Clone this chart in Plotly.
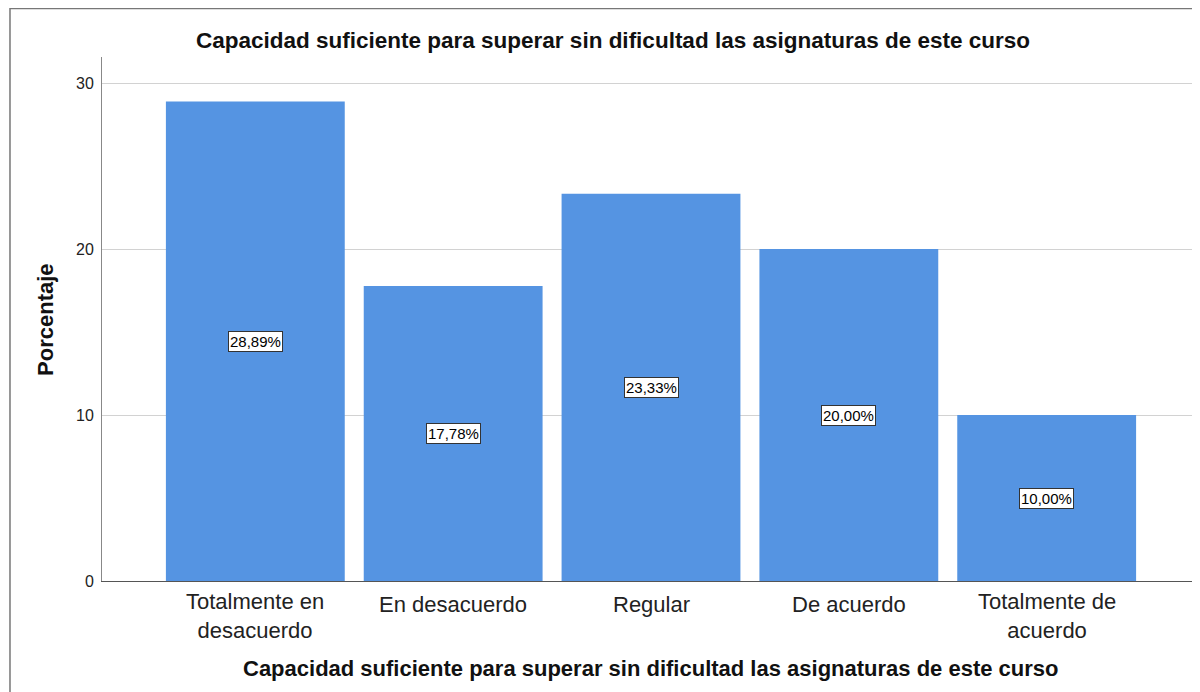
import plotly.graph_objects as go

# data
categorias = ["Totalmente en<br>desacuerdo", "En desacuerdo", "Regular", "De acuerdo", "Totalmente de<br>acuerdo"]
porcentajes = [28.89, 17.78, 23.33, 20.00, 10.00]
etiquetas = ["28,89%", "17,78%", "23,33%", "20,00%", "10,00%"]
y_ticks = [0, 10, 20, 30]

titulo = "Capacidad suficiente para superar sin dificultad las asignaturas de este curso"
bar_color = "#5594E2"
fuente = "Liberation Sans, Arial, sans-serif"

fig = go.Figure()
fig.add_trace(go.Bar(
    x=list(range(len(categorias))),
    y=porcentajes,
    marker=dict(color=bar_color, line=dict(width=0)),
    hoverinfo="skip",
))

# value labels in white boxes, middle of each bar
for i, (v, t) in enumerate(zip(porcentajes, etiquetas)):
    fig.add_annotation(
        x=i, y=v / 2, text=t, showarrow=False,
        font=dict(family=fuente, size=15, color="#000"),
        bgcolor="white", bordercolor="#333", borderwidth=1, borderpad=1,
    )

# category labels
for i, cat in enumerate(categorias):
    dos_lineas = "<br>" in cat
    fig.add_annotation(
        x=i, y=0, yref="y", text=cat, showarrow=False,
        yanchor="middle", yshift=-35 if dos_lineas else -23,
        font=dict(family=fuente, size=22, color="#222"),
    )

# axis titles
fig.add_annotation(x=0.5, y=0, xref="paper", yref="paper", yshift=-87,
                   text="<b>" + titulo + "</b>", showarrow=False, yanchor="middle",
                   font=dict(family=fuente, size=22, color="#111"))
fig.add_annotation(x=-0.052, y=0.5, xref="paper", yref="paper", textangle=-90,
                   text="<b>Porcentaje</b>", showarrow=False,
                   xanchor="center", yanchor="middle",
                   font=dict(family=fuente, size=22, color="#111"))

# outer frame
fig.add_shape(type="rect", xref="paper", yref="paper",
              x0=-0.0838, x1=1.2, y0=-0.4, y1=1.0926,
              line=dict(color="#777", width=1.5), fillcolor="rgba(0,0,0,0)", layer="below")

fig.update_layout(
    width=1200, height=692,
    margin=dict(l=94, r=8, t=49, b=119),
    paper_bgcolor="white", plot_bgcolor="white",
    showlegend=False,
    bargap=0.096,
    font=dict(family=fuente, color="#222"),
    title=dict(text="<b>" + titulo + "</b>", x=0.4654, xanchor="center",
               y=0.9538, yanchor="middle", xref="paper",
               font=dict(size=22.5, color="#111")),
    xaxis=dict(
        tickvals=list(range(len(categorias))), showticklabels=False,
        range=[-0.775, 4.775],
        showline=True, linecolor="#555", linewidth=1,
        showgrid=False, ticks="", zeroline=False,
    ),
    yaxis=dict(
        range=[0, 31.57], tickvals=y_ticks,
        showline=True, linecolor="#888", linewidth=1,
        showgrid=True, gridcolor="#d2d2d2", gridwidth=1,
        zeroline=False, ticks="", ticklabelstandoff=4,
        tickfont=dict(size=16, color="#222"),
    ),
)

fig.write_html("out.html")
